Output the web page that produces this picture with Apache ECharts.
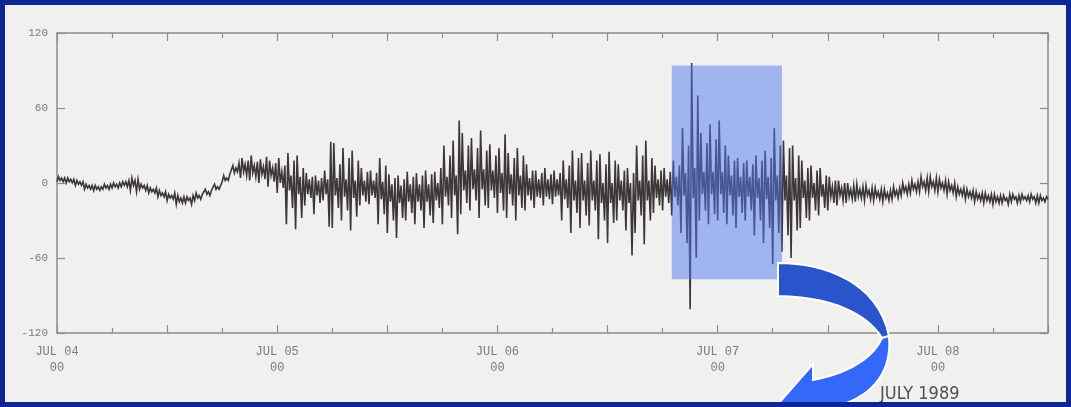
<!DOCTYPE html>
<html>
<head>
<meta charset="utf-8">
<script src="https://cdn.jsdelivr.net/npm/echarts@6/dist/echarts.min.js"></script>
<style>
  html, body { margin: 0; padding: 0; background: #0c2694; }
  #chart { width: 1071px; height: 407px; }
</style>
</head>
<body>
<div id="chart"></div>
<script>
// Magnetometer trace, JUL 04 00 UT to JUL 08 12 UT, one sample every 10 minutes (nT).
// Each row of six values covers one hour.
const sampleStepHours = 1 / 6;
const fieldNT = [
  // JUL 04
  1, 5, 2, 4, 1, 4,          0, 4, 1, 3, 0, 3,          -2, 2, -1, 1, -2, 1,
  -5, -1, -4, -2, -5, -2,    -6, -2, -5, -3, -6, -3,    -5, -1, -4, -2, -5, -1,
  -4, 0, -3, -1, -4, 0,      -3, 1, -2, 1, -3, 2,       -6, 4, -2, 2, -7, 3,
  -5, -1, -4, -2, -6, -2,    -8, -4, -7, -5, -8, -4,    -11, -6, -10, -8, -11, -7,
  -14, -9, -12, -10, -13, -8, -17, -10, -15, -12, -16, -11, -16, -11, -14, -12, -17, -10,
  -14, -8, -12, -10, -13, -9, -10, -5, -9, -7, -10, -6,  -6, -1, -5, -3, -5, -2,
  1, 6, 2, 4, 2, 7,          6, 14, 8, 12, 9, 16,       4, 20, 9, 15, 6, 18,
  2, 22, 8, 14, 5, 17,       0, 19, 7, 13, 3, 21,       -3, 18, 6, 12, 1, 16,
  // JUL 05
  -8, 20, 0, 9, -4, 14,      -33, 24, -6, 6, -20, 18,   -37, 22, -9, 5, -28, 12,
  -18, 8, -9, 3, -12, 5,     -25, 6, -10, 2, -16, 4,    -14, 10, -9, 3, -35, 33,
  -36, 32, -10, 4, -20, 15,  -30, 28, -11, 3, -22, 20,  -38, 26, -12, 2, -27, 18,
  -18, 12, -10, 2, -15, 9,   -17, 10, -10, 2, -12, 8,   -33, 20, -13, 1, -25, 14,
  -40, 7, -15, -1, -30, 4,   -44, 6, -16, -2, -28, 3,   -30, 9, -15, -1, -24, 5,
  -33, 8, -15, -1, -22, 6,   -36, 10, -15, -1, -26, 7,  -32, 9, -14, 0, -20, 12,
  -33, 30, -11, 5, -18, 22,  -28, 34, -10, 6, -41, 50,  -25, 40, -6, 10, -16, 30,
  -22, 36, -5, 11, -14, 28,  -28, 42, -5, 11, -18, 26,  -20, 31, -6, 10, -12, 22,
  // JUL 06
  -24, 28, -8, 8, -22, 39,   -28, 24, -9, 7, -18, 20,   -30, 28, -10, 6, -20, 22,
  -22, 15, -10, 4, -14, 10,  -20, 10, -11, 3, -12, 8,   -18, 12, -11, 3, -13, 7,
  -17, 10, -11, 3, -10, 8,   -30, 18, -13, 3, -20, 14,  -40, 26, -14, 2, -24, 20,
  -36, 24, -14, 2, -26, 16,  -34, 26, -14, 2, -22, 18,  -45, 23, -16, 0, -30, 15,
  -48, 25, -16, 0, -32, 18,  -30, 15, -14, 2, -22, 10,  -38, 12, -16, 0, -58, 8,
  -40, 30, -14, 2, -26, 22,  -49, 34, -14, 2, -30, 20,  -24, 14, -12, 3, -18, 10,
  -22, 12, -11, 3, -16, 9,   -26, 18, -11, 5, -18, 14,  -40, 44, -10, 8, -48, 30,
  -101, 96, -12, 12, -60, 70, -30, 40, -9, 9, -22, 32, -33, 47, -9, 9, -25, 35,
  // JUL 07
  -30, 50, -9, 9, -24, 30,   -33, 22, -10, 6, -26, 18,  -36, 20, -11, 5, -24, 16,
  -30, 18, -11, 5, -22, 15,  -42, 22, -12, 4, -30, 18,  -48, 26, -13, 5, -36, 20,
  -65, 44, -14, 6, -40, 30,  -55, 34, -14, 6, -42, 28,  -60, 30, -14, 4, -38, 22,
  -36, 18, -12, 2, -28, 12,  -30, 14, -12, 0, -22, 10,  -26, 12, -11, -1, -20, 6,
  -22, 5, -11, -3, -16, 2,   -18, 2, -10, -4, -14, 0,   -16, 0, -11, -5, -13, -2,
  -15, -1, -11, -5, -12, -3, -14, -2, -10, -6, -13, -4, -14, -4, -11, -7, -13, -5,
  -15, -5, -12, -8, -14, -6, -13, -3, -10, -6, -12, -4, -10, 0, -7, -3, -9, -1,
  -8, 2, -5, -1, -7, 1,      -7, 5, -3, 1, -6, 4,       -7, 5, -3, 1, -6, 4,
  // JUL 08
  -7, 3, -4, 0, -6, 2,       -9, 1, -6, -2, -8, 0,      -11, -3, -9, -5, -10, -4,
  -13, -5, -11, -7, -12, -6, -15, -7, -13, -9, -14, -8, -16, -8, -14, -10, -15, -9,
  -17, -9, -15, -11, -16, -10, -16, -10, -14, -12, -17, -9, -15, -9, -13, -11, -16, -10,
  -15, -9, -13, -11, -14, -10, -15, -9, -13, -11, -16, -10, -16, -10, -14, -12, -15, -11,
  -13
];

const dayLabels = ['JUL 04', 'JUL 05', 'JUL 06', 'JUL 07', 'JUL 08'];
const hourLabel = '00';
const yTickValues = [-120, -60, 0, 60, 120];
// Shaded storm interval: hours after JUL 04 00 and nT span.
const highlightHours = [67, 79];
const highlightNT = [-77, 94];
const yearLabel = 'JULY 1989';

const traceData = fieldNT.map((v, i) => [i * sampleStepHours, v]);
const spanHours = Math.round((fieldNT.length - 1) * sampleStepHours);

const frameColor = '#8c8c8c';
const labelFont = "'Liberation Mono', 'DejaVu Sans Mono', monospace";

// Outline of a shape given as a list of segments: points ([x, y]) or cubic curves ({c1, c2, to}).
function outline(start, segments) {
  const pts = [start];
  let cur = start;
  segments.forEach(seg => {
    if (Array.isArray(seg)) {
      pts.push(seg);
      cur = seg;
      return;
    }
    const p0 = cur, p1 = seg.c1, p2 = seg.c2, p3 = seg.to;
    for (let k = 1; k <= 16; k++) {
      const t = k / 16, u = 1 - t;
      pts.push([
        u * u * u * p0[0] + 3 * u * u * t * p1[0] + 3 * u * t * t * p2[0] + t * t * t * p3[0],
        u * u * u * p0[1] + 3 * u * u * t * p1[1] + 3 * u * t * t * p2[1] + t * t * t * p3[1]
      ]);
    }
    cur = p3;
  });
  return pts;
}

const arrowBack = outline([778, 263], [
  { c1: [825, 263], c2: [878, 282], to: [889, 336] },
  [882, 338],
  { c1: [872, 322], c2: [845, 297], to: [778, 296] }
]);
const arrowFront = outline([889, 336], [
  { c1: [892, 370], c2: [875, 395], to: [838, 406] },
  [850, 420], [778, 404], [813, 364], [813, 380],
  { c1: [845, 374], c2: [872, 360], to: [882, 338] }
]);

function xAxisBase(position, withLabels) {
  return {
    type: 'value',
    position: position,
    min: 0,
    max: spanHours,
    interval: 12,
    axisLine: { show: true, onZero: false, lineStyle: { color: frameColor, width: 1.5 } },
    axisTick: { show: true, inside: true, length: 8, lineStyle: { color: frameColor, width: 1.2 } },
    minorTick: { show: true, splitNumber: 2, length: 5, lineStyle: { color: frameColor, width: 1.2 } },
    splitLine: { show: false },
    minorSplitLine: { show: false },
    axisLabel: withLabels ? {
      show: true,
      margin: 11,
      color: '#7a7a7a',
      fontFamily: labelFont,
      fontSize: 12,
      lineHeight: 16,
      formatter: v => (v % 24 === 0 && dayLabels[v / 24]) ? dayLabels[v / 24] + '\n' + hourLabel : ''
    } : { show: false }
  };
}

function yAxisBase(position, withLabels) {
  return {
    type: 'value',
    position: position,
    min: yTickValues[0],
    max: yTickValues[yTickValues.length - 1],
    interval: yTickValues[1] - yTickValues[0],
    axisLine: { show: true, onZero: false, lineStyle: { color: frameColor, width: 1.5 } },
    axisTick: { show: true, inside: true, length: 8, lineStyle: { color: frameColor, width: 1.2 } },
    splitLine: { show: false },
    axisLabel: withLabels ? {
      show: true,
      margin: 9,
      color: '#7a7a7a',
      fontFamily: labelFont,
      fontSize: 11
    } : { show: false }
  };
}

const chart = echarts.init(document.getElementById('chart'), null, { renderer: 'canvas' });

chart.setOption({
  animation: false,
  backgroundColor: '#f0f0ee',
  grid: { left: 57, right: 23, top: 33, bottom: 74, containLabel: false },
  xAxis: [xAxisBase('bottom', true), xAxisBase('top', false)],
  yAxis: [yAxisBase('left', true), yAxisBase('right', false)],
  series: [
    {
      type: 'line',
      xAxisIndex: 0,
      yAxisIndex: 0,
      data: traceData,
      showSymbol: false,
      silent: true,
      z: 2,
      lineStyle: { color: '#3d3737', width: 1.6, join: 'miter' }
    },
    {
      type: 'custom',
      xAxisIndex: 0,
      yAxisIndex: 0,
      silent: true,
      z: 5,
      data: [[highlightHours[0], highlightHours[1], highlightNT[0], highlightNT[1]]],
      encode: { x: [0, 1], y: [2, 3] },
      renderItem: (params, api) => {
        const tl = api.coord([api.value(0), api.value(3)]);
        const br = api.coord([api.value(1), api.value(2)]);
        return {
          type: 'rect',
          shape: { x: tl[0], y: tl[1], width: br[0] - tl[0], height: br[1] - tl[1] },
          style: { fill: 'rgba(80,120,240,0.5)' }
        };
      }
    }
  ],
  graphic: [
    {
      // upper (back) face of the curved arrow
      type: 'polygon',
      z: 50,
      shape: { points: arrowBack },
      style: { fill: '#2a54cc', stroke: '#ffffff', lineWidth: 2 }
    },
    {
      // front face with the arrow head
      type: 'polygon',
      z: 51,
      shape: { points: arrowFront },
      style: { fill: '#3468fb', stroke: '#ffffff', lineWidth: 2 }
    },
    {
      type: 'text',
      z: 60,
      left: 880,
      top: 385,
      style: {
        text: yearLabel,
        fill: '#505050',
        font: "18px 'Liberation Sans Narrow', 'DejaVu Sans Condensed', sans-serif"
      }
    },
    {
      // outer frame
      type: 'rect',
      z: 100,
      silent: true,
      shape: { x: 0, y: 0, width: 1071, height: 407 },
      style: { fill: 'transparent', stroke: '#0c2694', lineWidth: 10 }
    }
  ]
});
</script>
</body>
</html>
